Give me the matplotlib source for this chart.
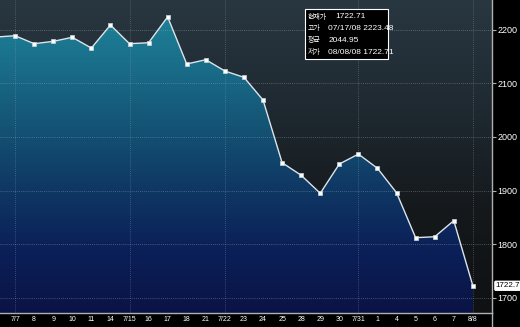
import numpy as np
import matplotlib
matplotlib.use("Agg")
import matplotlib.pyplot as plt
from matplotlib.colors import LinearSegmentedColormap
from matplotlib.patches import Rectangle

# data (KOSPI-like daily close, 2008 July - August)
dates = ["7/4", "7/7", "8", "9", "10", "11", "14", "7/15", "16", "17", "18", "21",
         "7/22", "23", "24", "25", "28", "29", "30", "7/31", "1", "4", "5", "6", "7", "8/8"]
closes = [2186, 2188.5, 2173.6, 2178.0, 2185.5, 2165.5, 2208.4, 2173.6, 2175.4, 2223.5,
          2135.8, 2143.8, 2122.7, 2111.0, 2068.7, 1952.0, 1928.5, 1895.0, 1949.5, 1968.0,
          1941.5, 1896.0, 1812.3, 1814.0, 1844.0, 1722.71]
yticks = [1700, 1800, 1900, 2000, 2100, 2200]
vgrid_dates = ["7/7", "7/15", "7/22", "7/31", "8/8"]
info_labels = ["현재가", "고가", "평균", "저가"]
info_values = ["1722.71", "07/17/08 2223.48", "2044.95", "08/08/08 1722.71"]
last_label = "1722.7"

x = np.arange(len(closes))
xmin, xmax = 0.21, 26.0
ymin, ymax = 1672, 2255

fig = plt.figure(figsize=(5.2, 3.27), dpi=100, facecolor="black")
ax = fig.add_axes([0, 0.0428, 0.946, 0.9572])
ax.set_xlim(xmin, xmax)
ax.set_ylim(ymin, ymax)

# background above the line
bg_cmap = LinearSegmentedColormap.from_list("bg", ["#0f1113", "#15191c", "#1f2a32", "#293741"])
grad = np.linspace(0, 1, 256).reshape(-1, 1)
ax.imshow(grad, extent=[xmin, xmax, ymin, ymax], aspect="auto", cmap=bg_cmap,
          origin="lower", zorder=0)

# gradient area under the line
fill_cmap = LinearSegmentedColormap.from_list(
    "fill", ["#0a1345", "#0b2058", "#0f3864", "#145475", "#1a6f8a", "#1f879c"])
im = ax.imshow(grad, extent=[xmin, xmax, ymin, ymax], aspect="auto", cmap=fill_cmap,
               origin="lower", zorder=1)
poly = ax.fill_between(x, closes, ymin, color="none", lw=0)
im.set_clip_path(poly.get_paths()[0], transform=ax.transData)

# grid
for yv in yticks:
    ax.axhline(yv, color="#9aa8b4", lw=0.6, ls=(0, (1, 1.5)), alpha=0.55, zorder=2)
for d in vgrid_dates:
    ax.axvline(dates.index(d), color="#9aa8b4", lw=0.6, ls=(0, (1, 1.5)), alpha=0.45, zorder=2)

ax.plot(x, closes, color="#dde4ea", lw=1.0, marker="s", markersize=2.8,
        markerfacecolor="white", markeredgecolor="#c8d8e0", markeredgewidth=0.5, zorder=4)

# axes styling
for s in ["top", "left"]:
    ax.spines[s].set_visible(False)
for s in ["bottom", "right"]:
    ax.spines[s].set_color("#b0b0b0")
    ax.spines[s].set_linewidth(1.0)
ax.yaxis.tick_right()
ax.set_yticks(yticks)
ax.set_yticklabels([str(v) for v in yticks], fontsize=6.5, color="white", family="Liberation Sans")
ax.tick_params(axis="y", length=3, color="#b0b0b0", pad=1)
ax.set_xticks(x[1:])
ax.set_xticklabels(dates[1:], fontsize=5, color="white", family="Liberation Sans")
ax.tick_params(axis="x", length=0, pad=2)
fig.add_artist(plt.Line2D([0.946, 0.946], [0, 0.0428], color="#b0b0b0", lw=1.0,
                          transform=fig.transFigure))

# last value tag
ax.annotate(last_label, xy=(1.008, closes[-1]), xycoords=("axes fraction", "data"),
            va="center", ha="left", fontsize=5.8, color="black", family="Liberation Sans",
            bbox=dict(boxstyle="round,pad=0.12", fc="white", ec="white"), annotation_clip=False)

# info box
ax.add_patch(Rectangle((0.62, 0.81), 0.168, 0.16, transform=ax.transAxes,
                       facecolor="black", edgecolor="white", lw=0.8, zorder=5))
for i, (lab, val) in enumerate(zip(info_labels, info_values)):
    yy = 0.947 - i * 0.038
    ax.text(0.625, yy, lab, transform=ax.transAxes, fontsize=5, color="white",
            family=["Noto Sans CJK KR", "DejaVu Sans"], va="center", ha="left", zorder=6)
    ax.text(0.681 if i == 0 else 0.667, yy, val, transform=ax.transAxes, fontsize=6,
            color="white", family="Liberation Sans", va="center", ha="left", zorder=6)

fig.savefig("out.png", dpi=100, facecolor="black")
